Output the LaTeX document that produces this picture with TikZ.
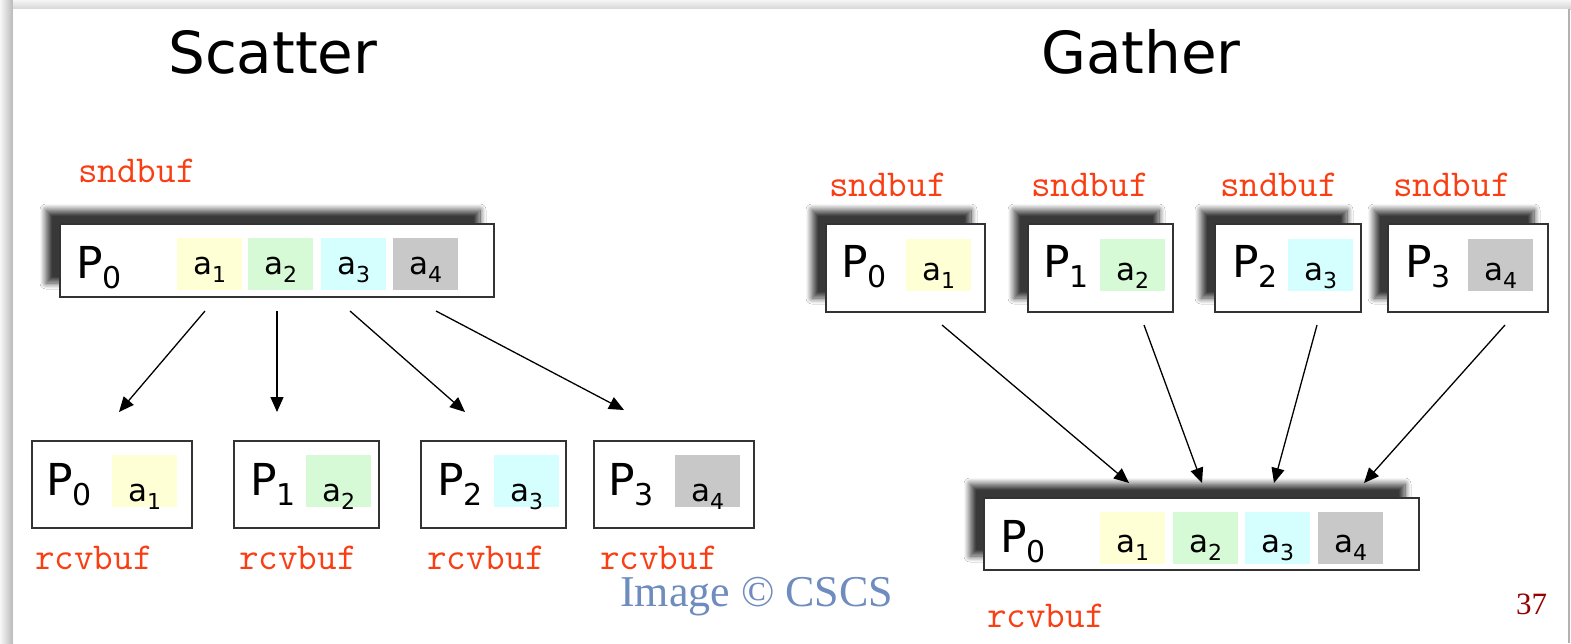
\documentclass[tikz,border=0pt]{standalone}
\usepackage{fontspec}
\setmainfont{DejaVu Sans}
\newfontfamily\seriff{Liberation Serif}
\usetikzlibrary{arrows.meta,shadows.blur}

\definecolor{bufred}{RGB}{250,62,20}
\definecolor{cellA}{RGB}{255,255,213}
\definecolor{cellB}{RGB}{213,250,213}
\definecolor{cellC}{RGB}{213,255,255}
\definecolor{cellD}{RGB}{200,200,200}
\definecolor{credit}{RGB}{110,140,190}
\definecolor{pagenum}{RGB}{150,0,0}

% process name P_k and data item a_k
\newcommand\procP[1]{{\fontsize{44}{44}\selectfont P\raisebox{-10pt}{\fontsize{30}{30}\selectfont #1}}}
\newcommand\elemA[1]{{\fontsize{31}{31}\selectfont a\raisebox{-8pt}{\fontsize{22}{22}\selectfont #1}}}

\tikzset{
  title/.style={font=\fontsize{58}{58}\selectfont, inner sep=0, anchor=base west},
  buf/.style={font=\ttfamily\fontsize{38}{38}\selectfont, text=bufred, inner sep=0, anchor=base west},
  plainbox/.style={draw=black!80, line width=1.3pt, fill=white, rectangle,
    inner sep=0, outer sep=0, anchor=north west},
  shadowbox/.style={plainbox, blur shadow={shadow xshift=-14pt, shadow yshift=14pt,
    shadow blur radius=6pt, shadow opacity=78, shadow blur steps=14}},
  plabel/.style={inner sep=0, anchor=base west},
  cell/.style={rectangle, inner sep=0, outer sep=0, anchor=north west,
    minimum width=65pt, minimum height=52pt, text height=#1, text depth=0pt},
  arr/.style={line width=1.3pt, -{Triangle[length=15pt,width=13pt]}},
}

\begin{document}
\begin{tikzpicture}[x=1pt, y=-1pt]
\useasboundingbox (0,0) rectangle (1571,643);

% slide frame with its soft edge
\fill[white] (0,0) rectangle (1571,643);
\shade[left color=gray!6, right color=gray!55] (0,0) rectangle (13,643);
\shade[top color=gray!8, bottom color=gray!32] (13,0) rectangle (1571,9);
\fill[white] (13,9) rectangle (1568,643);
\draw[gray!60, line width=1.5pt] (1569,9) -- (1569,643);

% titles
\node[title] (ttlS) at (168,73) {Scatter};
\node[title] (ttlG) at (1041,73) {Gather};

% ---------------- Scatter ----------------
\node[buf] (sSnd) at (78,182) {sndbuf};
\node[shadowbox, minimum width=434pt, minimum height=73pt] (sTop) at (60,224) {};
\node[plabel] (sTopP) at (76,278) {\procP{0}};
\node[cell=20pt, fill=cellA] (sTopA1) at (177,238) {\elemA{1}};
\node[cell=20pt, fill=cellB] (sTopA2) at (248,238) {\elemA{2}};
\node[cell=20pt, fill=cellC] (sTopA3) at (321,238) {\elemA{3}};
\node[cell=20pt, fill=cellD] (sTopA4) at (393,238) {\elemA{4}};

\node[plainbox, minimum width=160pt, minimum height=87pt] (sB0) at (32,441) {};
\node[plainbox, minimum width=145pt, minimum height=87pt] (sB1) at (234,441) {};
\node[plainbox, minimum width=145pt, minimum height=87pt] (sB2) at (421,441) {};
\node[plainbox, minimum width=160pt, minimum height=87pt] (sB3) at (594,441) {};
\node[plabel] (sB0P) at (46,495) {\procP{0}};
\node[plabel] (sB1P) at (250,495) {\procP{1}};
\node[plabel] (sB2P) at (437,495) {\procP{2}};
\node[plabel] (sB3P) at (608,495) {\procP{3}};
\node[cell=40pt, fill=cellA] (sB0A) at (112,455) {\elemA{1}};
\node[cell=40pt, fill=cellB] (sB1A) at (306,455) {\elemA{2}};
\node[cell=40pt, fill=cellC] (sB2A) at (494,455) {\elemA{3}};
\node[cell=40pt, fill=cellD] (sB3A) at (675,455) {\elemA{4}};
\node[buf] (sRcv0) at (35,569) {rcvbuf};
\node[buf] (sRcv1) at (239,569) {rcvbuf};
\node[buf] (sRcv2) at (427,569) {rcvbuf};
\node[buf] (sRcv3) at (600,569) {rcvbuf};

\coordinate (sFrom1) at (205,311); \coordinate (sTo1) at (119,412);
\coordinate (sFrom2) at (277,311); \coordinate (sTo2) at (277,412);
\coordinate (sFrom3) at (350,311); \coordinate (sTo3) at (465,412);
\coordinate (sFrom4) at (436,311); \coordinate (sTo4) at (624,410);
\draw[arr] (sFrom1) -- (sTo1);
\draw[arr] (sFrom2) -- (sTo2);
\draw[arr] (sFrom3) -- (sTo3);
\draw[arr] (sFrom4) -- (sTo4);

% ---------------- Gather ----------------
\node[buf] (gSnd0) at (829,196) {sndbuf};
\node[buf] (gSnd1) at (1031,196) {sndbuf};
\node[buf] (gSnd2) at (1220,196) {sndbuf};
\node[buf] (gSnd3) at (1393,196) {sndbuf};
\node[shadowbox, minimum width=159pt, minimum height=88pt] (gT0) at (826,224) {};
\node[shadowbox, minimum width=145pt, minimum height=88pt] (gT1) at (1028,224) {};
\node[shadowbox, minimum width=146pt, minimum height=88pt] (gT2) at (1215,224) {};
\node[shadowbox, minimum width=160pt, minimum height=88pt] (gT3) at (1388,224) {};
\node[plabel] (gT0P) at (841,277) {\procP{0}};
\node[plabel] (gT1P) at (1043,277) {\procP{1}};
\node[plabel] (gT2P) at (1232,277) {\procP{2}};
\node[plabel] (gT3P) at (1405,277) {\procP{3}};
\node[cell=30pt, fill=cellA] (gT0A) at (906,239) {\elemA{1}};
\node[cell=30pt, fill=cellB] (gT1A) at (1100,239) {\elemA{2}};
\node[cell=30pt, fill=cellC] (gT2A) at (1288,239) {\elemA{3}};
\node[cell=30pt, fill=cellD] (gT3A) at (1468,239) {\elemA{4}};

\coordinate (gFrom1) at (942,325);  \coordinate (gTo1) at (1129,483);
\coordinate (gFrom2) at (1144,325); \coordinate (gTo2) at (1202,483);
\coordinate (gFrom3) at (1317,325); \coordinate (gTo3) at (1274,483);
\coordinate (gFrom4) at (1505,325); \coordinate (gTo4) at (1364,483);

\node[shadowbox, minimum width=435pt, minimum height=72pt] (gBot) at (984,498) {};
\node[plabel] (gBotP) at (1000,552) {\procP{0}};
\node[cell=28pt, fill=cellA] (gBotA1) at (1100,512) {\elemA{1}};
\node[cell=28pt, fill=cellB] (gBotA2) at (1173,512) {\elemA{2}};
\node[cell=28pt, fill=cellC] (gBotA3) at (1245,512) {\elemA{3}};
\node[cell=28pt, fill=cellD] (gBotA4) at (1318,512) {\elemA{4}};
\node[buf] (gRcv) at (987,627) {rcvbuf};

\draw[arr] (gFrom1) -- (gTo1);
\draw[arr] (gFrom2) -- (gTo2);
\draw[arr] (gFrom3) -- (gTo3);
\draw[arr] (gFrom4) -- (gTo4);

% credit line and page number
\node[anchor=base west, inner sep=0, font=\seriff\fontsize{44}{44}\selectfont, text=credit] (credit) at (620,606) {Image © CSCS};
\node[anchor=base west, inner sep=0, font=\seriff\fontsize{31}{31}\selectfont, text=pagenum] (pageno) at (1516,614) {37};
\end{tikzpicture}
\end{document}
